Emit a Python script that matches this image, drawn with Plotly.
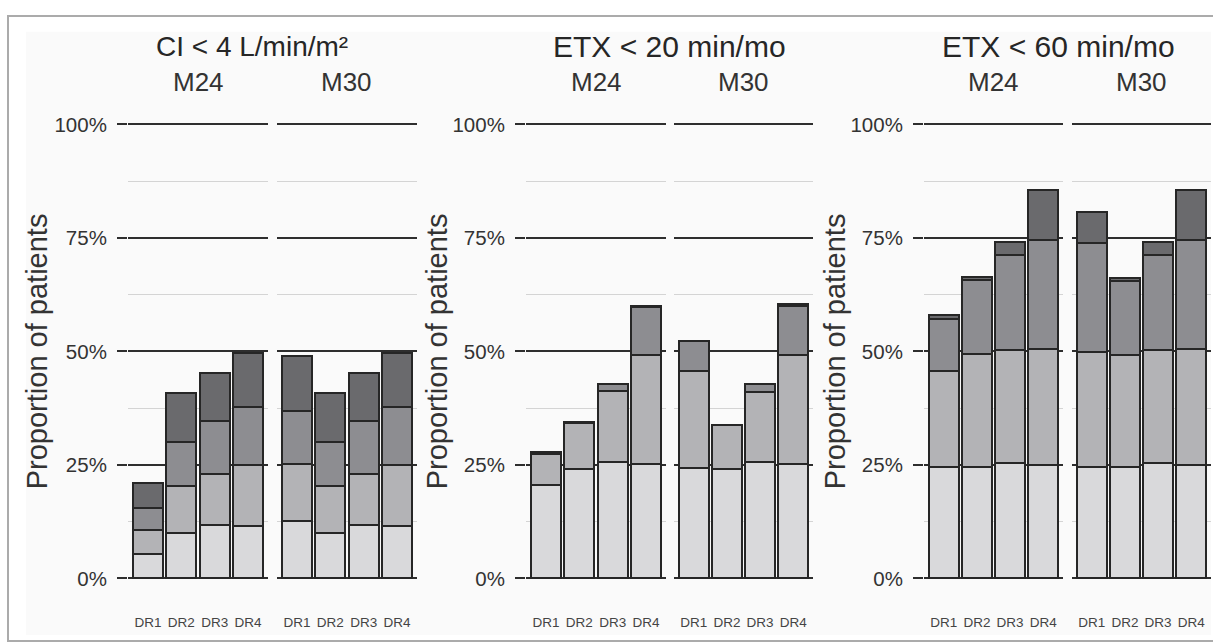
import plotly.graph_objects as go

W, H = 1213, 644

# ---------------- data (percent of patients, segment heights bottom -> top) --------------
categories = ["DR1", "DR2", "DR3", "DR4"]
panel_titles = ["CI < 4 L/min/m²", "ETX < 20 min/mo", "ETX < 60 min/mo"]
facets = ["M24", "M30"]
y_tick_vals = [0, 0.25, 0.5, 0.75, 1.0]
y_tick_text = ["0%", "25%", "50%", "75%", "100%"]
y_minor_vals = [0.125, 0.375, 0.625, 0.875]

# CI < 4 L/min/m2
ci_m24_s1 = [5.5, 10.1, 11.7, 11.5]
ci_m24_s2 = [5.2, 10.2, 11.3, 13.4]
ci_m24_s3 = [4.9, 9.7, 11.7, 12.8]
ci_m24_s4 = [5.4, 10.8, 10.5, 12.0]
ci_m30_s1 = [12.6, 10.1, 11.7, 11.5]
ci_m30_s2 = [12.7, 10.2, 11.3, 13.4]
ci_m30_s3 = [11.6, 9.7, 11.7, 12.8]
ci_m30_s4 = [12.1, 10.8, 10.5, 12.0]

# ETX < 20 min/mo
e20_m24_s1 = [20.5, 24.0, 25.6, 25.2]
e20_m24_s2 = [7.0, 10.2, 15.7, 24.1]
e20_m24_s3 = [0.0, 0.0, 1.6, 10.5]
e20_m24_s4 = [0.3, 0.2, 0.0, 0.3]
e20_m30_s1 = [24.3, 24.0, 25.6, 25.2]
e20_m30_s2 = [21.3, 9.8, 15.5, 24.1]
e20_m30_s3 = [6.7, 0.0, 1.7, 10.7]
e20_m30_s4 = [0.0, 0.0, 0.0, 0.4]

# ETX < 60 min/mo
e60_m24_s1 = [24.5, 24.5, 25.5, 25.1]
e60_m24_s2 = [21.2, 24.9, 24.8, 25.4]
e60_m24_s3 = [11.5, 16.3, 20.9, 24.0]
e60_m24_s4 = [0.8, 0.7, 2.9, 11.1]
e60_m30_s1 = [24.5, 24.5, 25.5, 25.1]
e60_m30_s2 = [25.4, 24.8, 24.8, 25.4]
e60_m30_s3 = [24.0, 16.1, 20.9, 24.0]
e60_m30_s4 = [6.9, 0.7, 2.9, 11.1]

panels = [
    [[ci_m24_s1, ci_m24_s2, ci_m24_s3, ci_m24_s4], [ci_m30_s1, ci_m30_s2, ci_m30_s3, ci_m30_s4]],
    [[e20_m24_s1, e20_m24_s2, e20_m24_s3, e20_m24_s4], [e20_m30_s1, e20_m30_s2, e20_m30_s3, e20_m30_s4]],
    [[e60_m24_s1, e60_m24_s2, e60_m24_s3, e60_m24_s4], [e60_m30_s1, e60_m30_s2, e60_m30_s3, e60_m30_s4]],
]

seg_colors = ["#d9d9db", "#b3b3b6", "#8d8d91", "#6a6a6d"]

# ---------------- layout geometry (pixels) ----------------
facet_px = [
    [(128, 268), (277, 417)],
    [(526, 666), (674, 813)],
    [(924, 1063), (1072, 1211)],
]
title_cx = [252, 670, 1058]
title_size = [28, 30, 30]
ylabel_cx = [37, 437, 835]
y_top_px, y_bot_px = 122.3, 580.0
y_lo, y_hi = -0.02, 1.02

def fx(px):
    return px / W

def fy(py):
    return 1 - py / H

per_unit = (y_bot_px - y_top_px)
ydom = [fy(y_bot_px + (0 - y_lo) * per_unit), fy(y_top_px - (y_hi - 1) * per_unit)]

FONT = "Liberation Sans, Arial, sans-serif"
TXT = "#333333"

fig = go.Figure()
layout = {}
annotations = []
k = 0
for p in range(3):
    for f in range(2):
        k += 1
        xa = "x" if k == 1 else f"x{k}"
        ya = "y" if k == 1 else f"y{k}"
        for s in range(4):
            fig.add_trace(go.Bar(
                x=categories,
                y=[v / 100 for v in panels[p][f][s]],
                xaxis=xa, yaxis=ya,
                marker=dict(color=seg_colors[s], line=dict(color="#262626", width=2)),
                width=0.9, showlegend=False,
                hovertemplate="%{x}: %{y:.1%}<extra></extra>",
            ))
        x0, x1 = facet_px[p][f]
        xkey = "xaxis" if k == 1 else f"xaxis{k}"
        ykey = "yaxis" if k == 1 else f"yaxis{k}"
        layout[xkey] = dict(
            domain=[fx(x0), fx(x1)], anchor=ya, type="category",
            range=[-0.6, 3.6], showgrid=False, zeroline=False, showline=False,
            ticks="", tickfont=dict(size=13.5, color="#444444", family=FONT),
            ticklabelstandoff=25,
        )
        first = (f == 0)
        layout[ykey] = dict(
            domain=ydom, anchor=xa, range=[y_lo, y_hi],
            tickvals=y_tick_vals, ticktext=y_tick_text,
            showticklabels=first,
            ticks="outside" if first else "", ticklen=10, tickwidth=2, tickcolor="#2e2e2e",
            tickfont=dict(size=20.5, color=TXT, family=FONT),
            ticklabelstandoff=6,
            showgrid=True, gridcolor="#2e2e2e", gridwidth=2,
            zeroline=False, showline=False,
            minor=dict(tickvals=y_minor_vals, showgrid=True, gridcolor="#d4d4d4", gridwidth=1, ticks=""),
        )
        annotations.append(dict(
            text=facets[f], x=fx((x0 + x1) / 2), y=fy(80), xref="paper", yref="paper",
            showarrow=False, xanchor="center", yanchor="middle",
            font=dict(size=26, color=TXT, family=FONT),
        ))
    annotations.append(dict(
        text=panel_titles[p], x=fx(title_cx[p]), y=fy(44), xref="paper", yref="paper",
        showarrow=False, xanchor="center", yanchor="middle",
        font=dict(size=title_size[p], color="#262626", family=FONT),
    ))
    annotations.append(dict(
        text="Proportion of patients", x=fx(ylabel_cx[p]), y=fy(351), xref="paper", yref="paper",
        showarrow=False, xanchor="center", yanchor="middle", textangle=-90,
        font=dict(size=29, color=TXT, family=FONT),
    ))

shapes = [
    dict(type="rect", xref="paper", yref="paper", x0=fx(8), x1=fx(1225), y0=fy(643), y1=fy(13),
         line=dict(color="#ababab", width=2), fillcolor="white", layer="below"),
    dict(type="rect", xref="paper", yref="paper", x0=fx(26), x1=fx(1211), y0=fy(637), y1=fy(29),
         line=dict(width=0), fillcolor="#fafafa", layer="below"),
]

fig.update_layout(
    width=W, height=H, margin=dict(l=0, r=0, t=0, b=0),
    paper_bgcolor="white", plot_bgcolor="rgba(0,0,0,0)",
    barmode="stack", bargap=0.1,
    annotations=annotations, shapes=shapes,
    font=dict(family=FONT, color=TXT),
    **layout,
)

fig.write_html("out.html")
